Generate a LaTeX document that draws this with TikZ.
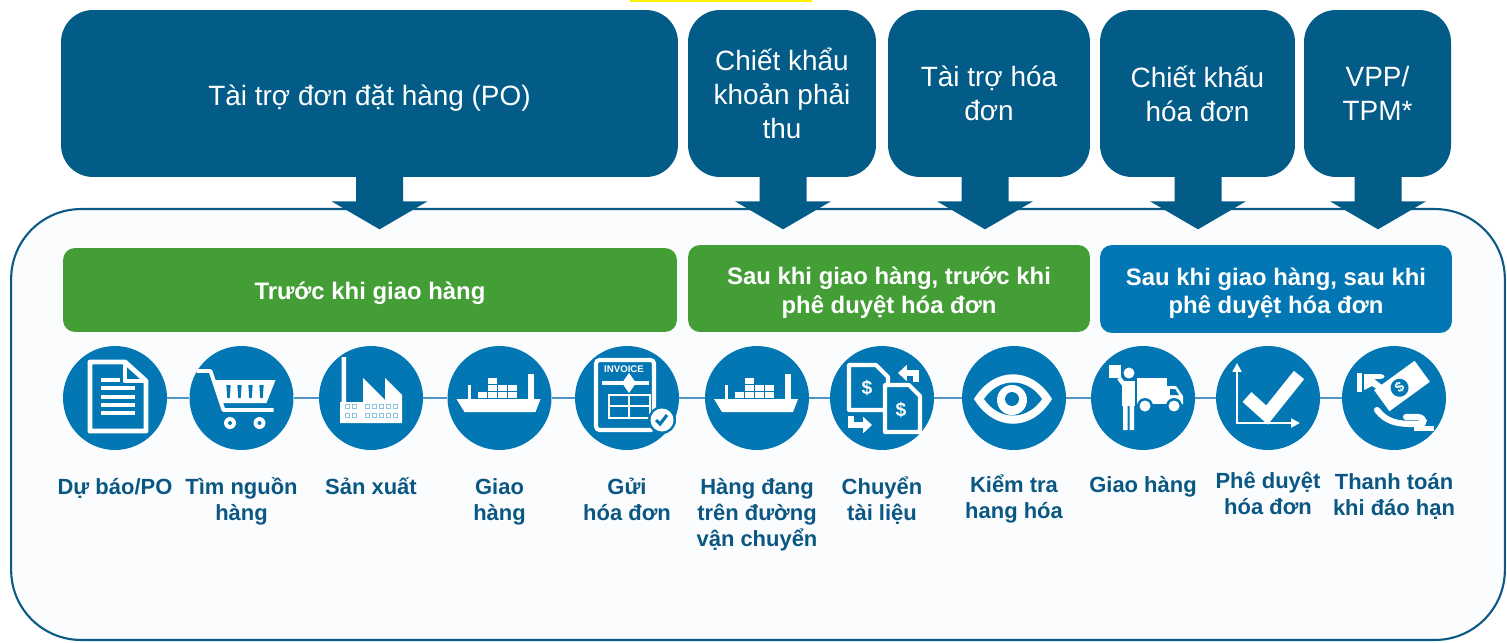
\documentclass[tikz,border=0pt]{standalone}
\usepackage{fontspec}
\setmainfont{Liberation Sans}
\usepackage{tikz}
\usetikzlibrary{positioning,arrows.meta}
\definecolor{TopBlue}{HTML}{025C87}
\definecolor{StageBlue}{HTML}{0277B4}
\definecolor{StageGreen}{HTML}{429E35}
\definecolor{LabelBlue}{HTML}{0B5783}
\definecolor{FrameBlue}{HTML}{0B5A84}
\definecolor{PaneFill}{HTML}{FBFCFD}
\definecolor{LinkBlue}{HTML}{4E96C6}

% fixed height for the first line of a node text
\newcommand{\lift}[1][12pt]{\rule{0pt}{#1}}
% container ship, drawn round the current origin
\newcommand{\shipglyph}{%
  \fill[white] (-43,1) -- (41,1) -- (36,14) -- (-35,14) -- cycle;
  \foreach \cx in {-22,-12,-2,8} \fill[white] (\cx,-6) rectangle ++(9,6);
  \foreach \cx in {-12,-2,8} \fill[white] (\cx,-13) rectangle ++(9,6);
  \fill[white] (-12,-20) rectangle ++(9,6);
  \fill[white] (28,-24) rectangle (34,1);
  \fill[white] (-32,-13) rectangle (-29,1);}

\begin{document}
\begin{tikzpicture}[x=0.02cm, y=-0.02cm,
                    product/.style={fill=TopBlue, rounded corners=0.64cm, text=white, align=center,
                                    minimum height=3.34cm, inner sep=0pt,
                                    font=\fontsize{15.9}{19.3}\selectfont},
                    stage/.style={rounded corners=0.24cm, text=white, align=center, inner sep=0pt,
                                  font=\bfseries\fontsize{13.6}{16.4}\selectfont},
                    pane/.style={draw=FrameBlue, line width=1.2pt, fill=PaneFill, rounded corners=1.4cm,
                                 minimum width=29.88cm, minimum height=8.62cm},
                    stepdot/.style={circle, fill=StageBlue, minimum size=2.08cm, inner sep=0pt},
                    steptext/.style={text=LabelBlue, align=center, inner sep=0pt,
                                     font=\bfseries\fontsize{12.5}{14.8}\selectfont},
                    steplink/.style={draw=LinkBlue, line width=1pt}]
\useasboundingbox (0,0) rectangle (1507,642);
\fill[yellow] (630,0) rectangle (812,2);

% big frame round the stages
\node[pane] (pane) at (758,424.5) {};

% financing products on top
\node[product, minimum width=12.34cm] (po) at (369.5,93.5) {\lift[16.4pt]Tài trợ đơn đặt hàng (PO)};
\node[product, minimum width=3.76cm] (ardisc) at (782,93.5) {Chiết khẩu\\khoản phải\\thu};
\node[product, minimum width=4.04cm] (invfin) at (989,93.5) {Tài trợ hóa\\đơn};
\node[product, minimum width=3.9cm] (invdisc) at (1197.5,93.5) {Chiết khấu\\hóa đơn};
\node[product, minimum width=2.94cm] (vpp) at (1377.5,93.5) {VPP/\\TPM*};
\foreach \b/\dx in {po/10, ardisc/1, invfin/-4, invdisc/0.5, vpp/0.5}
  \fill[TopBlue] (\b.south) ++(\dx-23.5,-2) -- ++(47,0) -- ++(0,26) -- ++(24.5,0)
                 -- ++(-48,28) -- ++(-48,-28) -- ++(24.5,0) -- cycle;

% stage bands
\node[stage, fill=StageGreen, minimum width=12.28cm, minimum height=1.68cm] (pre) at (370,290) {\lift[13.7pt]Trước khi giao hàng};
\node[stage, fill=StageGreen, minimum width=8.04cm, minimum height=1.74cm] (mid) at (889,288.5) {\lift[14.8pt]Sau khi giao hàng, trước khi\\phê duyệt hóa đơn};
\node[stage, fill=StageBlue, minimum width=7.04cm, minimum height=1.76cm] (post) at (1276,289) {\lift[14.8pt]Sau khi giao hàng, sau khi\\phê duyệt hóa đơn};

% steps
\node[stepdot] (forecast) at (115,398) {};
\node[stepdot] (sourcing) at (241.5,398) {};
\node[stepdot] (making) at (371,398) {};
\node[stepdot] (shipping) at (499.5,398) {};
\node[stepdot] (billing) at (627,398) {};
\node[stepdot] (transit) at (757,398) {};
\node[stepdot] (docs) at (882,398) {};
\node[stepdot] (inspect) at (1014,398) {};
\node[stepdot] (delivery) at (1143,398) {};
\node[stepdot] (approve) at (1268,398) {};
\node[stepdot] (payment) at (1394,398) {};
\foreach \a/\b in {forecast/sourcing, sourcing/making, making/shipping, shipping/billing,
                   billing/transit, transit/docs, docs/inspect, inspect/delivery,
                   delivery/approve, approve/payment}
  \draw[steplink] (\a) -- (\b);

\node[steptext, below=0.46cm of forecast] (forecast-txt) {\lift Dự báo/PO};
\node[steptext, below=0.46cm of sourcing] (sourcing-txt) {\lift Tìm nguồn\\hàng};
\node[steptext, below=0.46cm of making] (making-txt) {\lift Sản xuất};
\node[steptext, below=0.46cm of shipping] (shipping-txt) {\lift Giao\\hàng};
\node[steptext, below=0.46cm of billing] (billing-txt) {\lift Gửi\\hóa đơn};
\node[steptext, below=0.46cm of transit] (transit-txt) {\lift Hàng đang\\trên đường\\vận chuyển};
\node[steptext, below=0.46cm of docs] (docs-txt) {\lift Chuyển\\tài liệu};
\node[steptext, below=0.42cm of inspect] (inspect-txt) {\lift Kiểm tra\\hang hóa};
\node[steptext, below=0.42cm of delivery] (delivery-txt) {\lift Giao hàng};
\node[steptext, below=0.34cm of approve] (approve-txt) {\lift Phê duyệt\\hóa đơn};
\node[steptext, below=0.36cm of payment] (payment-txt) {\lift Thanh toán\\khi đáo hạn};

% icons
\begin{scope}[shift={(forecast.center)}]
  \draw[white, line width=2.8pt, line join=round] (-25,-36) -- (10,-36) -- (31,-17) -- (31,33) -- (-25,33) -- cycle;
  \draw[white, line width=2.8pt, line join=round] (10,-36) -- (10,-17) -- (31,-17);
  \draw[white, line width=2.2pt] (-14,-18) -- (5,-18);
  \foreach \y in {-10,-1,7,15} \draw[white, line width=2.2pt] (-14,\y) -- (20,\y);
\end{scope}
\begin{scope}[shift={(sourcing.center)}]
  \draw[white, line width=2.2pt, line join=round] (-45,-27) -- (-31,-27) -- (-18,12) -- (32,12);
  \fill[white] (-28,-18) -- (34,-18) -- (25,5) -- (-21,5) -- cycle;
  \foreach \x in {-13,-2,9,20} \fill[StageBlue] (\x-2.2,-13) -- (\x+2.2,-13) -- (\x+1.2,0) -- (\x-1.2,0) -- cycle;
  \foreach \x in {-11.5,18} {\fill[white] (\x,25) circle (6); \fill[StageBlue] (\x,25) circle (2);}
\end{scope}
\begin{scope}[shift={(making.center)}]
  \fill[white] (-31,25) -- (-31,4) -- (-29.5,4) -- (-29.5,-41) -- (-25,-41) -- (-25,4) -- (-8,4)
               -- (-8,-20) -- (14,2) -- (14,-20) -- (31,-3) -- (31,25) -- cycle;
  \foreach \wy in {8,17} \foreach \wx in {-24,-17,-4,3,10,17,24}
    \draw[StageBlue!45, line width=0.5pt] (\wx-2,\wy-2) rectangle ++(4,4);
\end{scope}
\begin{scope}[shift={(shipping.center)}]
  \shipglyph
\end{scope}
\begin{scope}[shift={(billing.center)}]
  \draw[white, line width=2.3pt, rounded corners=2pt] (-31,-38) rectangle (27,32);
  \node[font=\bfseries\fontsize{5.5}{6}\selectfont, text=white, inner sep=0pt] (inv-tag) at (-3,-29) {INVOICE};
  \fill[white] (-25,-17) rectangle (22,-13);
  \fill[white] (2,-25) -- (9,-15) -- (2,-5) -- (-5,-15) -- cycle;
  \draw[white, line width=1.4pt] (-18,-3) rectangle (23,20) (-18,8) -- (23,8) (2,-3) -- (2,20);
  \fill[StageBlue] (35,22) circle (14);
  \fill[white] (35,22) circle (11.5);
  \draw[StageBlue, line width=1.8pt] (29,22) -- (33,26) -- (40,17);
\end{scope}
\begin{scope}[shift={(transit.center)}]
  \shipglyph
\end{scope}
\begin{scope}[shift={(docs.center)}]
  \draw[white, line width=2.3pt, line join=round] (-33,-33) -- (-6,-33) -- (6,-21) -- (6,12) -- (-33,12) -- cycle;
  \node[font=\bfseries\fontsize{11}{12}\selectfont, text=white, inner sep=0pt] (dollar-a) at (-15,-10) {\$};
  \filldraw[fill=StageBlue, draw=white, line width=2.3pt, line join=round] (3,-13) -- (27,-13) -- (38,-2) -- (38,34) -- (3,34) -- cycle;
  \node[font=\bfseries\fontsize{11}{12}\selectfont, text=white, inner sep=0pt] (dollar-b) at (19,12) {\$};
  \draw[white, line width=3pt, -{Triangle[length=5pt,width=9pt]}] (34,-16) |- (16,-25);
  \draw[white, line width=3pt, -{Triangle[length=5pt,width=9pt]}] (-31,18) |- (-10,27);
\end{scope}
\begin{scope}[shift={(inspect.center)}]
  \fill[white] (-40,1) .. controls (-20,-32) and (18,-32) .. (38,1) .. controls (18,34) and (-20,34) .. (-40,1) -- cycle;
  \fill[StageBlue] (-30,1) .. controls (-15,-21) and (13,-21) .. (28,1) .. controls (13,23) and (-15,23) .. (-30,1) -- cycle;
  \fill[white] (-2,2) circle (15);
  \fill[StageBlue] (-2,1) circle (7);
\end{scope}
\begin{scope}[shift={(delivery.center)}]
  \fill[white] (-6,-20) rectangle (24,6);
  \fill[white] (24,-12) -- (33,-12) -- (40,-2) -- (40,6) -- (24,6) -- cycle;
  \fill[StageBlue] (27,-9) -- (32,-9) -- (36,-3) -- (27,-3) -- cycle;
  \foreach \wx in {2,31} {\fill[StageBlue] (\wx,8) circle (8); \fill[white] (\wx,8) circle (5.5);}
  \fill[StageBlue] (-23,-19) rectangle (-6,10);
  \fill[white] (-14,-25) circle (5.5);
  \fill[white] (-21,-17) rectangle (-8,8);
  \fill[white] (-20,8) rectangle (-15.5,32) (-13.5,8) rectangle (-9,32);
  \fill[white] (-34,-33) rectangle (-22,-20);
  \draw[white, line width=2.5pt] (-24,-20) -- (-18,-12);
\end{scope}
\begin{scope}[shift={(approve.center)}]
  \draw[white, line width=1.4pt, {Triangle[length=5pt,width=5pt]}-{Triangle[length=5pt,width=5pt]}]
    (-31,-35) -- (-31,25) -- (32,25);
  \draw[white, line width=7.5pt] (-21,-1) -- (-1,17) -- (31,-23);
\end{scope}
\begin{scope}[shift={(payment.center)}]
  \begin{scope}[shift={(8,-12)}, rotate=36]
    \fill[white] (-25,-13) rectangle (25,13);
    \fill[StageBlue] (-3,0) circle (9);
    \node[font=\bfseries\fontsize{8}{9}\selectfont, text=white, inner sep=0pt, rotate=36] (cash-sign) at (-3,0) {\$};
  \end{scope}
  \fill[white] (-37,-25) rectangle (-32,-6);
  \fill[white] (-30,-24) -- (-14,-24) .. controls (-8,-24) and (-8,-19) .. (-14,-19) -- (-20,-19)
               -- (-8,-10) .. controls (-5,-7) and (-9,-3) .. (-13,-6) -- (-22,-12) -- (-30,-8) -- cycle;
  \draw[white, line width=3.5pt, line cap=round] (-17,12) .. controls (-8,24) and (4,26) .. (18,26)
        -- (26,26) .. controls (31,26) and (31,20) .. (24,19) -- (12,19);
  \fill[white] (20,28) rectangle (40,33);
\end{scope}
\end{tikzpicture}
\end{document}
